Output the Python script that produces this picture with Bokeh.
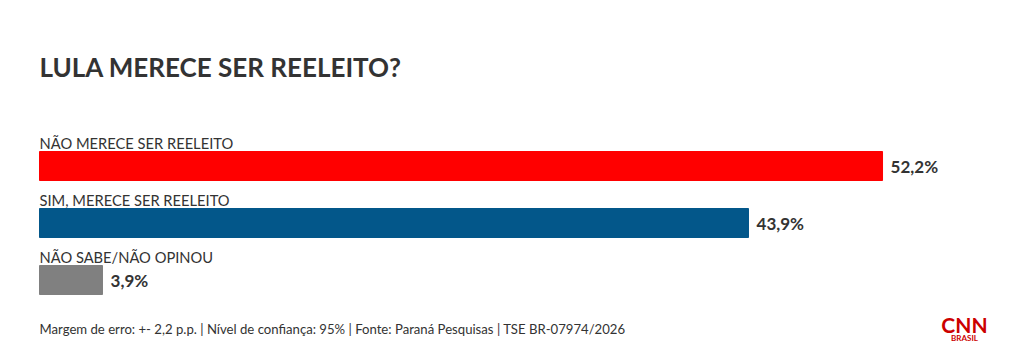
from bokeh.plotting import figure
from bokeh.models import Range1d, ColumnDataSource, Label
from bokeh.core.properties import value
from bokeh.embed import file_html
from bokeh.resources import INLINE

categories = ["NÃO MERECE SER REELEITO", "SIM, MERECE SER REELEITO", "NÃO SABE/NÃO OPINOU"]
values = [52.2, 43.9, 3.9]
value_labels = ["52,2%", "43,9%", "3,9%"]
colors = ["#ff0000", "#03578a", "#808080"]
title_text = "LULA MERECE SER REELEITO?"
footer_text = "Margem de erro: +- 2,2 p.p. | Nível de confiança: 95% | Fonte: Paraná Pesquisas | TSE BR-07974/2026"

W, H = 1020, 356
left_px = 39
px_per_unit = 16.15
FONT = "Lato"

p = figure(width=W, height=H, output_backend="svg", toolbar_location=None,
           x_range=Range1d(-left_px / px_per_unit, (W - left_px) / px_per_unit),
           y_range=Range1d(H, 0), min_border=0)
p.axis.visible = False
p.grid.visible = False
p.outline_line_color = None
p.background_fill_color = "white"
p.border_fill_color = "white"

row0, step = 165.5, 57
ys = [row0 + i * step for i in range(len(categories))]
src = ColumnDataSource(dict(y=ys, v=values, c=colors, cat=categories, lab=value_labels,
                            ly=[y - 23.5 for y in ys], vx=[v + 0.5 for v in values]))

p.hbar(y="y", left=0, right="v", height=29, color="c", source=src)
p.text(x=0, y="ly", text="cat", source=src, text_font=value(FONT), text_font_size="14.7px",
       text_color="#333333", text_baseline="alphabetic", text_align="left")
p.text(x="vx", y="y", text="lab", source=src, text_font=value(FONT), text_font_size="17px",
       text_font_style="bold", text_color="#333333", text_baseline="middle", text_align="left")

p.add_layout(Label(x=0, y=66, text=title_text, text_font=FONT, text_font_size="26px",
                   text_font_style="bold", text_color="#333333", text_baseline="alphabetic"))
p.add_layout(Label(x=0, y=328, text=footer_text, text_font=FONT, text_font_size="13.15px",
                   text_color="#333333", text_baseline="alphabetic"))

# CNN Brasil logo approximation
logo_x = (964 - left_px) / px_per_unit
p.add_layout(Label(x=logo_x, y=324, text="CNN", text_font=FONT, text_font_size="21px",
                   text_font_style="bold", text_color="#cc0000", text_align="center",
                   text_baseline="alphabetic"))
p.add_layout(Label(x=logo_x, y=337, text="BRASIL", text_font=FONT, text_font_size="8px",
                   text_font_style="bold", text_color="#cc0000", text_align="center",
                   text_baseline="alphabetic"))

open("out.html", "w").write(file_html(p, INLINE))
